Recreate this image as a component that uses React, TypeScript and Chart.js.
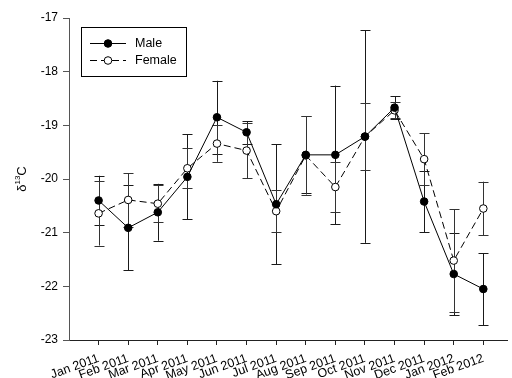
import React, { useEffect, useRef } from "react";
import { Chart, registerables } from "chart.js";

Chart.register(...registerables);

const months = [
  "Jan 2011", "Feb 2011", "Mar 2011", "Apr 2011", "May 2011", "Jun 2011", "Jul 2011",
  "Aug 2011", "Sep 2011", "Oct 2011", "Nov 2011", "Dec 2011", "Jan 2012", "Feb 2012",
];
const maleMean = [-20.40, -20.91, -20.62, -19.96, -18.85, -19.13, -20.47, -19.55, -19.55, -19.21, -18.67, -20.42, -21.77, -22.05];
const maleErr = [0.46, 0.79, 0.53, 0.79, 0.68, 0.21, 1.12, 0.72, 1.29, 1.98, 0.21, 0.57, 0.77, 0.67];
const femaleMean = [-20.64, -20.39, -20.46, -19.80, -19.34, -19.47, -20.60, -19.56, -20.15, -19.21, -18.72, -19.63, -21.52, -20.55];
const femaleErr = [0.60, 0.50, 0.34, 0.37, 0.34, 0.52, 0.39, 0.73, 0.47, 0.63, 0.15, 0.48, 0.96, 0.50];
const yTicks = [-23, -22, -21, -20, -19, -18, -17];
const seriesNames = ["Male", "Female"];

const FONT = "'Liberation Sans', Arial, sans-serif";

const errorBarPlugin = {
  id: "errorBars",
  beforeDatasetsDraw(chart: any) {
    const { ctx } = chart;
    const xs = chart.scales.x;
    const ys = chart.scales.y;
    const groups = [
      { mean: maleMean, err: maleErr, color: "#1a1a1a" },
      { mean: femaleMean, err: femaleErr, color: "#333333" },
    ];
    ctx.save();
    ctx.lineWidth = 1;
    for (const g of groups) {
      ctx.strokeStyle = g.color;
      g.mean.forEach((m, i) => {
        const px = Math.round(xs.getPixelForValue(i + 1)) + 0.5;
        const top = ys.getPixelForValue(m + g.err[i]);
        const bot = ys.getPixelForValue(m - g.err[i]);
        ctx.beginPath();
        ctx.moveTo(px, top);
        ctx.lineTo(px, bot);
        ctx.moveTo(px - 5, Math.round(top) + 0.5);
        ctx.lineTo(px + 5, Math.round(top) + 0.5);
        ctx.moveTo(px - 5, Math.round(bot) + 0.5);
        ctx.lineTo(px + 5, Math.round(bot) + 0.5);
        ctx.stroke();
      });
    }
    ctx.restore();
  },
};

const decorPlugin = {
  id: "decor",
  afterDraw(chart: any) {
    const { ctx, chartArea } = chart;
    ctx.save();
    // legend box
    const bx = 81.5, by = 27.5, bw = 105, bh = 49;
    ctx.strokeStyle = "#000";
    ctx.lineWidth = 1;
    ctx.strokeRect(bx, by, bw, bh);
    const rows = [
      { y: 43, dash: [] as number[], fill: "#000", name: seriesNames[0] },
      { y: 60, dash: [7, 4], fill: "#fff", name: seriesNames[1] },
    ];
    for (const r of rows) {
      ctx.setLineDash(r.dash);
      ctx.beginPath();
      ctx.moveTo(90, r.y + 0.5);
      ctx.lineTo(126, r.y + 0.5);
      ctx.stroke();
      ctx.setLineDash([]);
      ctx.beginPath();
      ctx.arc(108, r.y + 0.5, 3.8, 0, Math.PI * 2);
      ctx.fillStyle = r.fill;
      ctx.fill();
      ctx.stroke();
      ctx.fillStyle = "#000";
      ctx.font = `12.5px ${FONT}`;
      ctx.textBaseline = "middle";
      ctx.textAlign = "left";
      ctx.fillText(r.name, 135, r.y + 1);
    }
    // y axis title with superscript
    const cy = (chartArea.top + chartArea.bottom) / 2;
    ctx.translate(21, cy);
    ctx.rotate(-Math.PI / 2);
    ctx.textBaseline = "middle";
    ctx.textAlign = "left";
    ctx.font = `13px ${FONT}`;
    const w1 = ctx.measureText("\u03b4").width;
    ctx.font = `8px ${FONT}`;
    const w2 = ctx.measureText("13").width;
    ctx.font = `13px ${FONT}`;
    const w3 = ctx.measureText("C").width;
    let x0 = -(w1 + w2 + w3) / 2;
    ctx.fillText("\u03b4", x0, 1);
    x0 += w1;
    ctx.font = `8px ${FONT}`;
    ctx.fillText("13", x0, -3);
    x0 += w2;
    ctx.font = `13px ${FONT}`;
    ctx.fillText("C", x0, 1);
    ctx.restore();
  },
};

export default function App() {
  const ref = useRef<HTMLCanvasElement | null>(null);
  useEffect(() => {
    if (!ref.current) return;
    const chart = new Chart(ref.current, {
      type: "line",
      data: {
        datasets: [
          {
            label: seriesNames[0],
            data: maleMean.map((v, i) => ({ x: i + 1, y: v })),
            borderColor: "#000",
            borderWidth: 1,
            pointRadius: 3.8,
            pointBackgroundColor: "#000",
            pointBorderColor: "#000",
            pointBorderWidth: 1,
            tension: 0,
          },
          {
            label: seriesNames[1],
            data: femaleMean.map((v, i) => ({ x: i + 1, y: v })),
            borderColor: "#000",
            borderWidth: 1,
            borderDash: [7, 4],
            pointRadius: 3.8,
            pointBackgroundColor: "#fff",
            pointBorderColor: "#000",
            pointBorderWidth: 1,
            tension: 0,
          },
        ],
      },
      options: {
        animation: false,
        responsive: true,
        maintainAspectRatio: false,
        layout: { padding: { top: 18, right: 1, left: 0, bottom: 0 } },
        plugins: { legend: { display: false }, tooltip: { enabled: false }, title: { display: false } },
        scales: {
          x: {
            type: "linear",
            min: 0,
            max: 14.8,
            afterBuildTicks: (axis: any) => {
              axis.ticks = months.map((_, i) => ({ value: i + 1 }));
            },
            afterFit: (axis: any) => {
              axis.height = 38;
            },
            ticks: {
              stepSize: 1,
              autoSkip: false,
              minRotation: 20,
              maxRotation: 20,
              padding: 6,
              color: "#000",
              font: { family: FONT, size: 12.5 },
              callback: (v: any) => months[Number(v) - 1] ?? "",
            },
            grid: { display: true, drawOnChartArea: false, drawTicks: true, tickLength: 5, color: "#222" },
            border: { display: true, color: "#222", width: 1 },
          },
          y: {
            type: "linear",
            min: -23,
            max: -17,
            afterBuildTicks: (axis: any) => {
              axis.ticks = yTicks.map((v) => ({ value: v }));
            },
            afterFit: (axis: any) => {
              axis.width = 69;
            },
            ticks: {
              stepSize: 1,
              padding: 5,
              color: "#000",
              font: { family: FONT, size: 12 },
              callback: (v: any) => String(v),
            },
            grid: { display: true, drawOnChartArea: false, drawTicks: true, tickLength: 6, color: "#555" },
            border: { display: true, color: "#555", width: 1 },
          },
        },
      },
      plugins: [errorBarPlugin, decorPlugin],
    } as any);
    return () => chart.destroy();
  }, []);
  return (
    <div style={{ position: "absolute", left: 0, top: 0, width: 512, height: 378, background: "#fff" }}>
      <canvas ref={ref} />
    </div>
  );
}
